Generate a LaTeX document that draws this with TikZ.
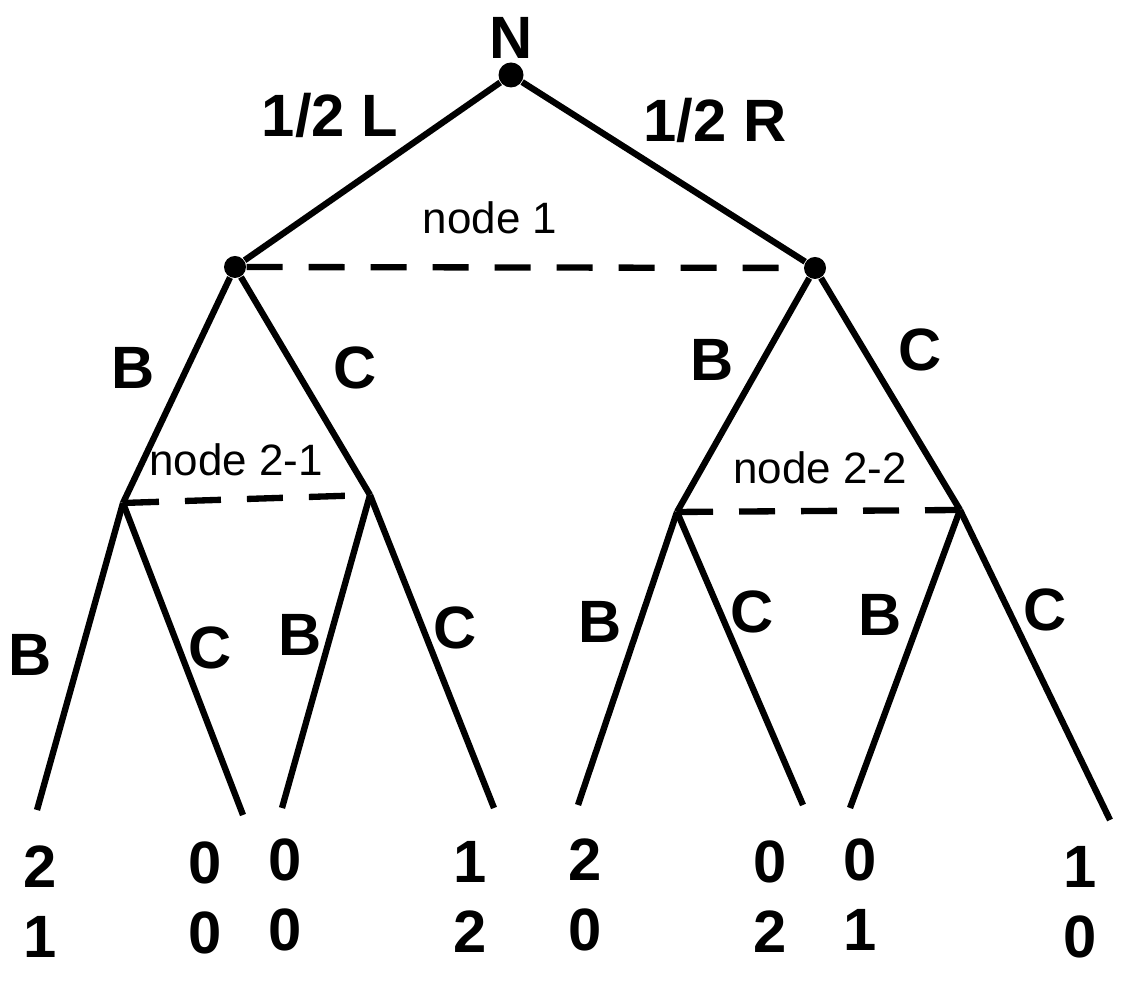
\documentclass[tikz,border=0pt]{standalone}
\usepackage{fontspec}
\setmainfont{Liberation Sans}
\usetikzlibrary{positioning}
\tikzset{
  decision/.style={circle, fill=black, inner sep=0pt, minimum size=0.22cm},
  branch/.style={line width=1.8pt},
  infoset/.style={line width=1.8pt, dash pattern=on 0.36cm off 0.26cm},
  move/.style={font=\fontsize{17}{20}\selectfont\bfseries},
  setlabel/.style={font=\fontsize{12.5}{15}\selectfont},
  payoff/.style={align=center, font=\fontsize{17}{20}\selectfont\bfseries}
}
\begin{document}
\begin{tikzpicture}
  \useasboundingbox (0,0) rectangle (11.38,10);

  % decision nodes
  \node (nature) [decision, minimum size=0.25cm] at (5.11,9.25) {};
  \node (left) [decision] at (2.35,7.33) {};
  \node (right) [decision] at (8.15,7.32) {};
  \coordinate (leftB) at (1.23,4.97);
  \coordinate (leftC) at (3.70,5.05);
  \coordinate (rightB) at (6.77,4.88);
  \coordinate (rightC) at (9.60,4.90);

  % terminal nodes
  \coordinate (t1) at (0.37,1.90);
  \coordinate (t2) at (2.43,1.85);
  \coordinate (t3) at (2.82,1.92);
  \coordinate (t4) at (4.94,1.92);
  \coordinate (t5) at (5.78,1.95);
  \coordinate (t6) at (8.03,1.95);
  \coordinate (t7) at (8.50,1.92);
  \coordinate (t8) at (11.10,1.80);

  % branches
  \draw [branch] (nature) -- (left);
  \draw [branch] (nature) -- (right);
  \draw [branch] (left) -- (leftB);
  \draw [branch] (left) -- (leftC);
  \draw [branch] (right) -- (rightB);
  \draw [branch] (right) -- (rightC);
  \draw [branch] (leftB) -- (t1);
  \draw [branch] (leftB) -- (t2);
  \draw [branch] (leftC) -- (t3);
  \draw [branch] (leftC) -- (t4);
  \draw [branch] (rightB) -- (t5);
  \draw [branch] (rightB) -- (t6);
  \draw [branch] (rightC) -- (t7);
  \draw [branch] (rightC) -- (t8);

  % information sets
  \draw [infoset] (left) -- (right);
  \draw [infoset] (leftB) -- (leftC);
  \draw [infoset] (rightB) -- (rightC);
  \node (set1) [setlabel] at (4.90,7.82) {node 1};
  \node (set21) [setlabel] at (2.36,5.40) {node 2-1};
  \node (set22) [setlabel] at (8.20,5.32) {node 2-2};

  % move labels
  \node (natlabel) [move] at (5.11,9.62) {N};
  \node (mL) [move] at (3.30,8.85) {1/2 L};
  \node (mR) [move] at (7.15,8.80) {1/2 R};
  \node (mLB) [move] at (1.33,6.32) {B};
  \node (mLC) [move] at (3.55,6.32) {C};
  \node (mRB) [move] at (7.12,6.40) {B};
  \node (mRC) [move] at (9.20,6.50) {C};
  \node (m1) [move] at (0.30,3.45) {B};
  \node (m2) [move] at (2.10,3.52) {C};
  \node (m3) [move] at (3.00,3.65) {B};
  \node (m4) [move] at (4.55,3.72) {C};
  \node (m5) [move] at (6.00,3.78) {B};
  \node (m6) [move] at (7.52,3.88) {C};
  \node (m7) [move] at (8.80,3.85) {B};
  \node (m8) [move] at (10.45,3.90) {C};

  % payoffs
  \node (p1) [payoff] at (0.40,0.98) {2\\1};
  \node (p2) [payoff] at (2.05,1.02) {0\\0};
  \node (p3) [payoff] at (2.85,1.05) {0\\0};
  \node (p4) [payoff] at (4.70,1.03) {1\\2};
  \node (p5) [payoff] at (5.85,1.05) {2\\0};
  \node (p6) [payoff] at (7.70,1.03) {0\\2};
  \node (p7) [payoff] at (8.60,1.05) {0\\1};
  \node (p8) [payoff] at (10.80,0.98) {1\\0};
\end{tikzpicture}
\end{document}
